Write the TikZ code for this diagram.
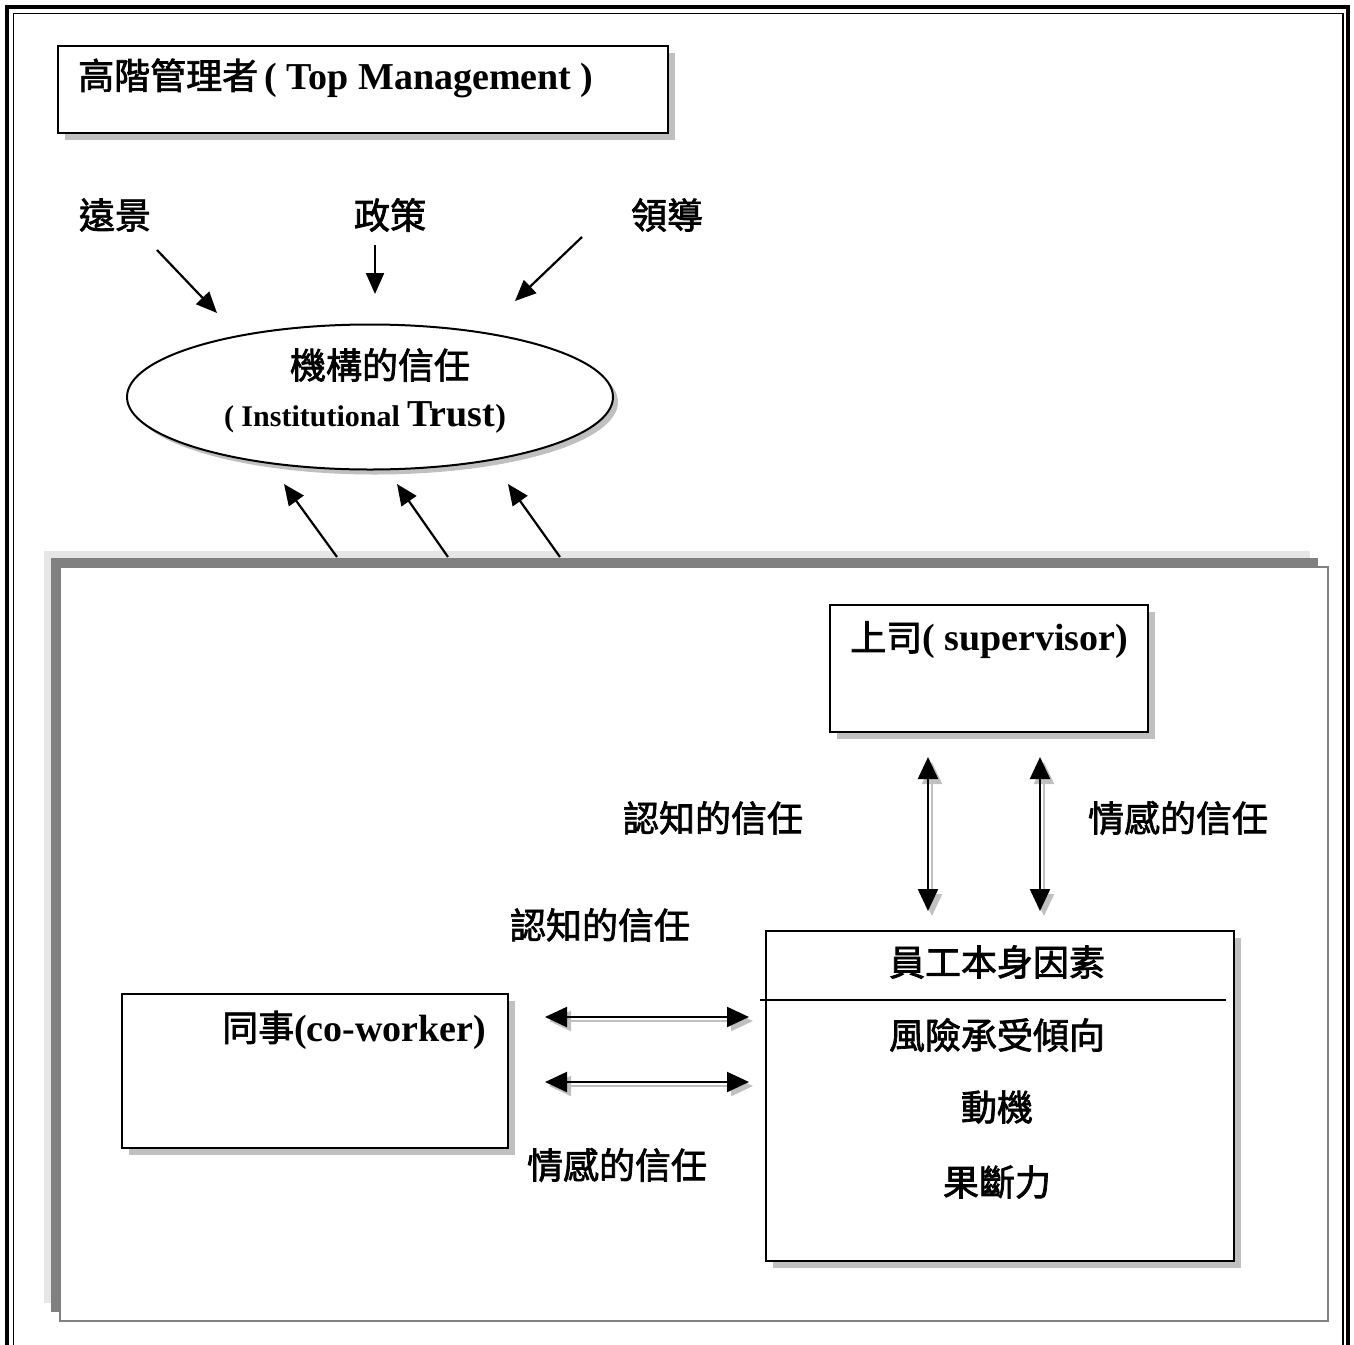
\documentclass[tikz,border=0pt]{standalone}
\usepackage{fontspec}
\setmainfont{Liberation Serif}
\newfontfamily\cjk{Noto Sans CJK TC}[FakeBold=2]
\usetikzlibrary{arrows.meta,shapes.geometric,shadows}
\definecolor{shad}{HTML}{C0C0C0}
\definecolor{lightband}{HTML}{E6E6E6}
\definecolor{darkband}{HTML}{808080}
\begin{document}
\begin{tikzpicture}[x=1pt,y=-1pt,
  box/.style={draw=black, line width=2pt, fill=white, rectangle, inner sep=0pt,
    drop shadow={shadow xshift=7pt, shadow yshift=-7pt, fill=shad, opacity=1}},
  big/.style={font=\fontsize{38}{42}\selectfont, inner sep=0pt},
  lbl/.style={font=\cjk\fontsize{36}{40}\selectfont, inner sep=0pt},
  arr/.style={line width=2.2pt, -{Triangle[length=21pt,width=18pt]}},
  darr/.style={line width=2.2pt, {Triangle[length=22pt,width=20pt]}-{Triangle[length=22pt,width=20pt]}},
  sdarr/.style={darr, draw=shad, fill=shad}]
\useasboundingbox (0,0) rectangle (1354,1344);
\clip (0,0) rectangle (1354,1344);
\fill[white] (0,0) rectangle (1354,1344);
% outer double border
\draw[line width=4pt] (7,7) rectangle (1348,1380);
\draw[line width=1.5pt] (13.5,13.5) rectangle (1343,1370);

% top management
\node[box, minimum width=610pt, minimum height=87pt, anchor=north west] (topbox) at (57,45) {};
\node[big, anchor=west] (toptext) at (78,78) {{\cjk\fontsize{36}{40}\selectfont 高階管理者}\,{\bfseries ( Top Management )}};

% labels and arrows
\node[lbl] (vision) at (115,215) {遠景};
\node[lbl] (policy) at (390,215) {政策};
\node[lbl] (lead) at (667,215) {領導};
\coordinate (v1) at (157,250); \coordinate (v2) at (217,313);
\coordinate (p1) at (375,245); \coordinate (p2) at (375,294);
\coordinate (l1) at (582,237); \coordinate (l2) at (515,301);
\draw[arr] (v1) -- (v2);
\draw[arr] (p1) -- (p2);
\draw[arr] (l1) -- (l2);

% ellipse
\node[ellipse, draw=black, line width=2pt, fill=white, minimum width=486pt, minimum height=145pt, inner sep=0pt,
  drop shadow={shadow xshift=5pt, shadow yshift=-5pt, fill=shad, opacity=1}] (inst) at (370,397) {};
\node[lbl] (insttxt) at (380,365) {機構的信任};
\node[inner sep=0pt, font=\bfseries] (insten) at (365,417) {{\fontsize{30}{32}\selectfont ( Institutional }{\fontsize{38}{40}\selectfont Trust}{\fontsize{32}{32}\selectfont )}};

% big frame
\fill[lightband] (44,551) rectangle (1310,1303);
\fill[darkband] (51,558) rectangle (1318,1312);
\filldraw[fill=white, draw=darkband, line width=1.5pt] (60,567) rectangle (1328,1321);
\coordinate (u1s) at (337,557); \coordinate (u1e) at (284,484);
\coordinate (u2s) at (448,557); \coordinate (u2e) at (397,484);
\coordinate (u3s) at (560,557); \coordinate (u3e) at (508,484);
\draw[arr] (u1s) -- (u1e);
\draw[arr] (u2s) -- (u2e);
\draw[arr] (u3s) -- (u3e);

% supervisor
\node[box, minimum width=318pt, minimum height=127pt, anchor=north west] (sup) at (829,604) {};
\node[big, anchor=west] (suptxt) at (850,640) {{\cjk\fontsize{36}{40}\selectfont 上司}{\bfseries ( supervisor)}};

% employee
\node[box, minimum width=468pt, minimum height=330pt, anchor=north west] (emp) at (765,930) {};
\coordinate (dl) at (760,1000); \coordinate (dr) at (1226,1000);
\draw[line width=1.8pt] (dl) -- (dr);
\node[lbl] (emp0) at (997,962) {員工本身因素};
\node[lbl] (emp1) at (997,1035) {風險承受傾向};
\node[lbl] (emp2) at (997,1107) {動機};
\node[lbl] (emp3) at (997,1182) {果斷力};

% coworker
\node[box, minimum width=386pt, minimum height=154pt, anchor=north west] (cow) at (121,993) {};
\node[big, anchor=west] (cowtxt) at (222,1030) {{\cjk\fontsize{36}{40}\selectfont 同事}{\bfseries (co-worker)}};

% double arrows supervisor-employee
\coordinate (s1a) at (928,757); \coordinate (s1b) at (928,911);
\coordinate (s2a) at (1040,757); \coordinate (s2b) at (1040,911);
\draw[sdarr] ([xshift=4pt,yshift=-5pt]s1a) -- ([xshift=4pt,yshift=-5pt]s1b);
\draw[sdarr] ([xshift=4pt,yshift=-5pt]s2a) -- ([xshift=4pt,yshift=-5pt]s2b);
\draw[darr] (s1a) -- (s1b);
\draw[darr] (s2a) -- (s2b);
\node[lbl] (cog1) at (713,818) {認知的信任};
\node[lbl] (aff1) at (1178,818) {情感的信任};

% double arrows coworker-employee
\coordinate (c1a) at (545,1017); \coordinate (c1b) at (749,1017);
\coordinate (c2a) at (545,1082); \coordinate (c2b) at (749,1082);
\draw[sdarr] ([xshift=4pt,yshift=-4pt]c1a) -- ([xshift=4pt,yshift=-4pt]c1b);
\draw[sdarr] ([xshift=4pt,yshift=-4pt]c2a) -- ([xshift=4pt,yshift=-4pt]c2b);
\draw[darr] (c1a) -- (c1b);
\draw[darr] (c2a) -- (c2b);
\node[lbl] (cog2) at (600,925) {認知的信任};
\node[lbl] (aff2) at (617,1165) {情感的信任};
\end{tikzpicture}
\end{document}
